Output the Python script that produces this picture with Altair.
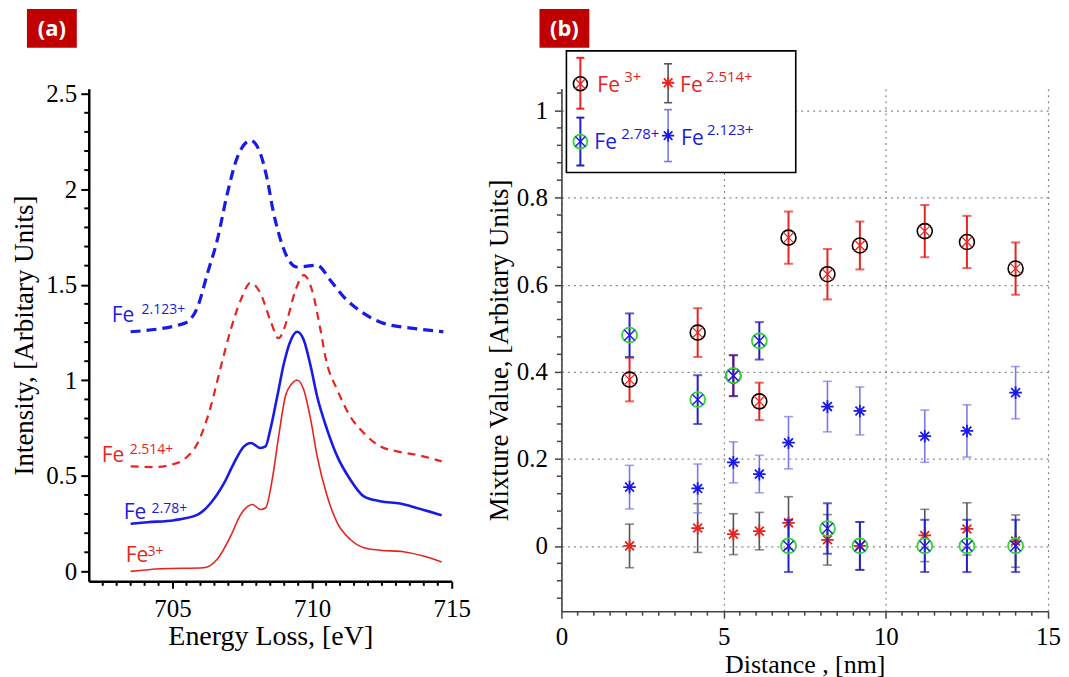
import altair as alt
import pandas as pd

# ---------------- Panel (a): EELS Fe L3 spectra ----------------
e_fe3 = [703.5, 704.58, 706.13, 706.6, 707.08, 707.44, 707.86, 708.15, 708.33, 708.57,
         708.8, 709.04, 709.29, 709.46, 709.7, 709.95, 710.18, 710.54, 710.9, 711.37,
         711.85, 712.44, 713.27, 713.99, 714.64]
i_fe3 = [0.0, 0.014, 0.019, 0.063, 0.184, 0.297, 0.35, 0.324, 0.332, 0.48,
         0.706, 0.915, 0.985, 1.002, 0.95, 0.793, 0.602, 0.393, 0.254, 0.167,
         0.124, 0.111, 0.103, 0.08, 0.049]

e_fe278 = [703.5, 704.1, 705.06, 705.9, 706.37, 706.85, 707.2, 707.56, 707.8, 708.15,
           708.33, 708.5, 708.75, 708.99, 709.24, 709.46, 709.7, 709.95, 710.18, 710.54,
           710.9, 711.37, 711.85, 712.44, 713.15, 713.75, 714.64]
i_fe278 = [0.249, 0.257, 0.268, 0.297, 0.358, 0.463, 0.567, 0.654, 0.672, 0.646,
           0.654, 0.741, 0.915, 1.089, 1.211, 1.254, 1.211, 1.072, 0.915, 0.741,
           0.602, 0.48, 0.393, 0.367, 0.355, 0.332, 0.294]

e_fe2514 = [703.5, 704.35, 704.95, 705.4, 705.9, 706.37, 706.7, 707.08, 707.44, 707.8,
            708.15, 708.5, 708.8, 709.1, 709.4, 709.7, 710.0, 710.3, 710.5, 710.9,
            711.37, 711.85, 712.44, 713.04, 713.75, 714.64]
i_fe2514 = [0.55, 0.546, 0.558, 0.585, 0.672, 0.863, 1.054, 1.263, 1.42, 1.51,
            1.455, 1.315, 1.22, 1.315, 1.47, 1.55, 1.47, 1.263, 1.106, 0.95,
            0.81, 0.724, 0.654, 0.628, 0.61, 0.576]

e_fe2123 = [703.5, 705.42, 705.9, 706.25, 706.6, 706.96, 707.32, 707.8, 708.15, 708.4,
            708.6, 708.8, 709.1, 709.46, 710.18, 710.65, 711.13, 711.85, 712.56, 713.63,
            714.7]
i_fe2123 = [1.254, 1.298, 1.385, 1.559, 1.733, 1.976, 2.167, 2.255, 2.185, 2.046,
            1.889, 1.77, 1.646, 1.593, 1.602, 1.524, 1.437, 1.35, 1.298, 1.272,
            1.254]

# ---------------- Panel (b): mixture values ----------------
distance = [2.1, 4.2, 5.3, 6.1, 7.0, 8.2, 9.2, 11.2, 12.5, 14.0]
err = [0.05, 0.056, 0.047, 0.043, 0.06, 0.058, 0.055, 0.06, 0.06, 0.06]
mix_fe3 = [0.382, 0.49, 0.391, 0.332, 0.708, 0.624, 0.690, 0.723, 0.698, 0.637]
mix_fe278 = [0.484, 0.336, 0.391, 0.471, 0.0, 0.04, 0.0, 0.0, 0.0, 0.0]
mix_fe2514 = [0.0, 0.041, 0.027, 0.034, 0.053, 0.014, 0.0, 0.024, 0.039, 0.011]
mix_fe2123 = [0.135, 0.132, 0.192, 0.165, 0.237, 0.320, 0.310, 0.252, 0.264, 0.352]

# ---------------- styling ----------------
RED = "#E8231F"
BLUE = "#1A1AE6"
DBLUE = "#2020C8"
LBLUE = "#7878EE"
GRAY = "#555555"
GREEN = "#33D633"
BOXRED = "#C00000"
SERIF = "Liberation Serif"
SANS = "Open Sans"

W_A, H_A = 364, 494
W_B, H_B = 488, 524

one = pd.DataFrame({"k": [0]})


def vrule(x, y1, y2, color, w):
    return alt.Chart(one).mark_rule(color=color, strokeWidth=w).encode(
        x=alt.value(x), y=alt.value(y1), y2=alt.value(y2))


def hrule(x1, x2, y, color, w):
    return alt.Chart(one).mark_rule(color=color, strokeWidth=w).encode(
        x=alt.value(x1), x2=alt.value(x2), y=alt.value(y))


def sym(x, y, shape, size, color, sw):
    return alt.Chart(one).mark_point(shape=shape, size=size, filled=False, color=color,
                                     strokeWidth=sw, opacity=1).encode(
        x=alt.value(x), y=alt.value(y))


def txt(x, y, s, color, size, font=SANS, weight="normal", align="left", baseline="alphabetic"):
    return alt.Chart(one).mark_text(align=align, baseline=baseline, font=font, fontSize=size,
                                    fontWeight=weight, color=color).encode(
        x=alt.value(x), y=alt.value(y), text=alt.value(s))


def box(x1, x2, y1, y2, fill, stroke=None, sw=0):
    kw = dict(fill=fill)
    if stroke:
        kw.update(stroke=stroke, strokeWidth=sw)
    return alt.Chart(one).mark_rect(**kw).encode(
        x=alt.value(x1), x2=alt.value(x2), y=alt.value(y1), y2=alt.value(y2))


# ================= Panel (a) =================
xa = alt.Scale(domain=[702, 715], nice=False, zero=False)
ya = alt.Scale(domain=[-0.052, 2.526], nice=False, zero=False)

ax_xa = alt.Axis(values=[705, 710, 715], format="d", title="Energy Loss, [eV]",
                 labelFont=SERIF, labelFontSize=25, titleFont=SERIF, titleFontSize=28,
                 titleFontWeight="normal", labelColor="black", titleColor="black",
                 domainColor="black", domainWidth=2.5, tickColor="black", tickWidth=2,
                 tickSize=7, labelPadding=8, titlePadding=1, grid=False, labelFlush=False)
ax_ya = alt.Axis(values=[0, 0.5, 1, 1.5, 2, 2.5], format="~g",
                 title="Intensity, [Arbitary Units]",
                 labelFont=SERIF, labelFontSize=25, titleFont=SERIF, titleFontSize=27,
                 titleFontWeight="normal", labelColor="black", titleColor="black",
                 domainColor="black", domainWidth=2.5, tickColor="black", tickWidth=2,
                 tickSize=8, labelPadding=4, titlePadding=7, grid=False)

XA = dict(scale=xa, axis=ax_xa)
YA = dict(scale=ya, axis=ax_ya)


def curve(e, i, color, width, dash=None):
    df = pd.DataFrame({"E": e, "I": i})
    kw = dict(color=color, strokeWidth=width, interpolate="monotone")
    if dash:
        kw["strokeDash"] = dash
    return alt.Chart(df).mark_line(**kw).encode(
        x=alt.X("E:Q", **XA), y=alt.Y("I:Q", **YA))


minor_xa = [702.5 + 0.5 * k for k in range(25) if (702.5 + 0.5 * k) % 5 != 0]
minor_ya = [round(0.1 * k, 2) for k in range(1, 25) if k % 5 != 0]

minor_a = [
    alt.Chart(pd.DataFrame({"E": minor_xa})).mark_rule(color="black", strokeWidth=2).encode(
        x=alt.X("E:Q", **XA), y=alt.value(H_A), y2=alt.value(H_A + 4.5)),
    alt.Chart(pd.DataFrame({"I": minor_ya})).mark_rule(color="black", strokeWidth=2).encode(
        y=alt.Y("I:Q", **YA), x=alt.value(0), x2=alt.value(-4.5)),
]

# label positions relative to the plot origin (90, 88) of panel (a)
labels_a = [
    txt(23, 234, "Fe", BLUE, 21), txt(53, 226, "2.123+", BLUE, 14),
    txt(13, 374, "Fe", RED, 21), txt(41, 366, "2.514+", RED, 14),
    txt(35, 432, "Fe", BLUE, 21), txt(63, 425, "2.78+", BLUE, 14),
    txt(37, 475, "Fe", RED, 21), txt(59, 469, "3+", RED, 14),
    box(-62, -12, -80, -41, BOXRED),
    txt(-37, -60, "(a)", "white", 22, weight="bold", align="center", baseline="middle"),
]

panel_a = alt.layer(
    curve(e_fe3, i_fe3, RED, 1.6),
    curve(e_fe278, i_fe278, BLUE, 2.6),
    curve(e_fe2514, i_fe2514, RED, 2.2, dash=[8, 6]),
    curve(e_fe2123, i_fe2123, BLUE, 3.2, dash=[10, 6]),
    *minor_a,
    *labels_a,
).properties(width=W_A, height=H_A)

# ================= Panel (b) =================
xb = alt.Scale(domain=[0, 15], nice=False, zero=False)
yb = alt.Scale(domain=[-0.15, 1.05], nice=False, zero=False)

ax_xb = alt.Axis(values=[0, 5, 10, 15], format="d", title="Distance , [nm]",
                 labelFont=SERIF, labelFontSize=25, titleFont=SERIF, titleFontSize=26,
                 titleFontWeight="normal", labelColor="black", titleColor="black",
                 domainColor="#444444", domainWidth=1.6, tickColor="#444444", tickWidth=1.5,
                 tickSize=7, labelPadding=6, titlePadding=2, grid=True, gridColor="#888888",
                 gridDash=[2, 4], gridWidth=1.2, labelFlush=False)
ax_yb = alt.Axis(values=[0, 0.2, 0.4, 0.6, 0.8, 1], format="~g",
                 title="Mixture Value, [Arbitary Units]",
                 labelFont=SERIF, labelFontSize=25, titleFont=SERIF, titleFontSize=27,
                 titleFontWeight="normal", labelColor="black", titleColor="black",
                 domainColor="#444444", domainWidth=1.6, tickColor="#444444", tickWidth=1.5,
                 tickSize=7, labelPadding=7, titlePadding=3, grid=True, gridColor="#888888",
                 gridDash=[2, 4], gridWidth=1.2)

XB = dict(scale=xb, axis=ax_xb)
YB = dict(scale=yb, axis=ax_yb)

X_SHAPE = "M-1,-1L1,1M-1,1L1,-1"
STAR = "M-1,0L1,0M0,-1L0,1M-0.7,-0.7L0.7,0.7M-0.7,0.7L0.7,-0.7"


def series(vals, err_color, err_w, markers):
    df = pd.DataFrame({
        "d": distance, "v": vals,
        "lo": [v - e for v, e in zip(vals, err)],
        "hi": [v + e for v, e in zip(vals, err)],
    })
    xd = alt.X("d:Q", **XB)
    out = [
        alt.Chart(df).mark_rule(color=err_color, strokeWidth=err_w).encode(
            x=xd, y=alt.Y("lo:Q", **YB), y2="hi:Q"),
        alt.Chart(df).mark_tick(orient="horizontal", color=err_color, size=9,
                                thickness=err_w).encode(x=xd, y=alt.Y("lo:Q", **YB)),
        alt.Chart(df).mark_tick(orient="horizontal", color=err_color, size=9,
                                thickness=err_w).encode(x=xd, y=alt.Y("hi:Q", **YB)),
    ]
    for shape, size, color, sw in markers:
        out.append(alt.Chart(df).mark_point(shape=shape, size=size, filled=False, color=color,
                                            strokeWidth=sw, opacity=1).encode(
            x=xd, y=alt.Y("v:Q", **YB)))
    return out


minor_xb = [0.5 * k for k in range(1, 30) if k % 10 != 0]
minor_yb = [round(0.04 * k, 2) for k in range(-3, 27) if k % 5 != 0]
minor_b = [
    alt.Chart(pd.DataFrame({"d": minor_xb})).mark_rule(color="#444444", strokeWidth=1.5).encode(
        x=alt.X("d:Q", **XB), y=alt.value(H_B), y2=alt.value(H_B + 4.5)),
    alt.Chart(pd.DataFrame({"v": minor_yb})).mark_rule(color="#444444", strokeWidth=1.5).encode(
        y=alt.Y("v:Q", **YB), x=alt.value(0), x2=alt.value(-4.5)),
]

mk_fe3 = [("circle", 225, "black", 1.6), (X_SHAPE, 110, RED, 1.2)]
mk_fe2514 = [(STAR, 160, RED, 1.8)]
mk_fe278 = [("circle", 225, GREEN, 1.8), (X_SHAPE, 110, BLUE, 1.4)]
mk_fe2123 = [(STAR, 160, BLUE, 1.8)]

# legend positions relative to the plot origin (562, 88) of panel (b)
legend_b = [
    box(5, 235, -38, 84, "white", stroke="black", sw=1.6),
    # entry Fe3+
    vrule(19, -31, 20, RED, 2), hrule(15, 23, -31, RED, 2), hrule(15, 23, 20, RED, 2),
    sym(19, -5, "circle", 196, "black", 1.6), sym(19, -5, X_SHAPE, 100, RED, 1.2),
    txt(36, 3, "Fe", RED, 21), txt(63, -7, "3+", RED, 15),
    # entry Fe2.514+
    vrule(107, -25, 14, GRAY, 1.6), hrule(103, 111, -25, GRAY, 1.6), hrule(103, 111, 14, GRAY, 1.6),
    sym(107, -6, STAR, 150, RED, 1.8),
    txt(119, 3, "Fe", RED, 21), txt(145, -7, "2.514+", RED, 15),
    # entry Fe2.78+
    vrule(19, 29, 77, DBLUE, 2), hrule(15, 23, 29, DBLUE, 2), hrule(15, 23, 77, DBLUE, 2),
    sym(19, 53, "circle", 196, GREEN, 1.8), sym(19, 53, X_SHAPE, 100, BLUE, 1.4),
    txt(33, 60, "Fe", BLUE, 21), txt(60, 50, "2.78+", BLUE, 15),
    # entry Fe2.123+
    vrule(107, 21, 73, LBLUE, 1.6), hrule(103, 111, 21, LBLUE, 1.6), hrule(103, 111, 73, LBLUE, 1.6),
    sym(107, 47, STAR, 150, BLUE, 1.8),
    txt(120, 56, "Fe", BLUE, 21), txt(146, 46, "2.123+", BLUE, 15),
    # panel tag
    box(-22, 28, -80, -41, BOXRED),
    txt(3, -60, "(b)", "white", 22, weight="bold", align="center", baseline="middle"),
]

panel_b = alt.layer(
    *series(mix_fe3, RED, 2, mk_fe3),
    *series(mix_fe2514, GRAY, 1.6, mk_fe2514),
    *series(mix_fe278, DBLUE, 2, mk_fe278),
    *series(mix_fe2123, LBLUE, 1.6, mk_fe2123),
    *minor_b,
    *legend_b,
).properties(width=W_B, height=H_B)

chart = alt.hconcat(panel_a, panel_b, spacing=14).properties(
    padding={"left": 2, "top": 0, "right": 0, "bottom": 0}
).configure_view(stroke=None)

chart.save("out.html", embed_options={"renderer": "svg", "actions": False})
